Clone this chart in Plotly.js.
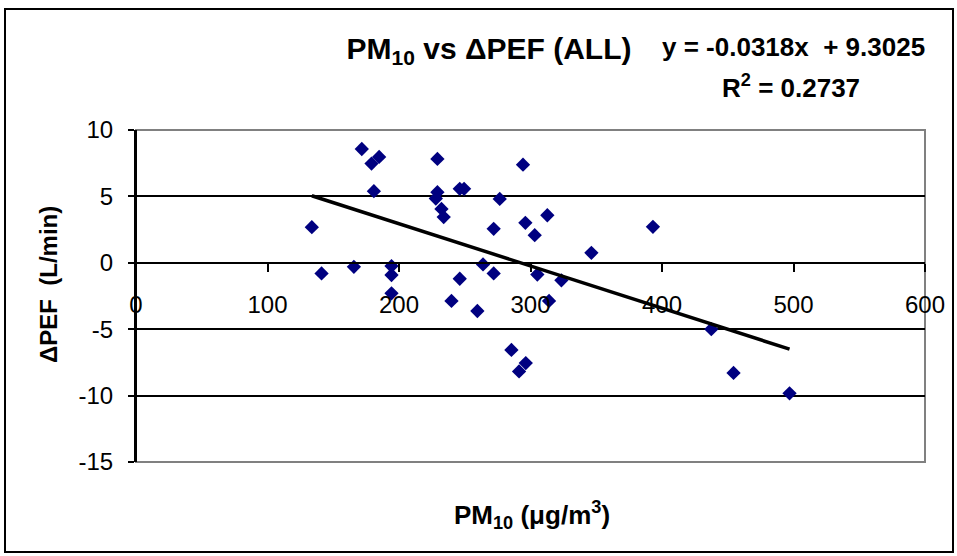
<!DOCTYPE html>
<html>
<head>
<meta charset="utf-8">
<script src="https://cdn.plot.ly/plotly-3.0.1.min.js"></script>
<style>
  html, body { margin: 0; padding: 0; background: #fff; }
  #wrap { position: relative; width: 957px; height: 556px; }
  #chart { width: 957px; height: 556px; }
  #frame { position: absolute; left: 4px; top: 8px; width: 946px; height: 541px;
           border: 2px solid #000; pointer-events: none; }
</style>
</head>
<body>
<div id="wrap">
  <div id="chart"></div>
  <div id="frame"></div>
</div>
<script>
// PM10 concentration (µg/m³) for each observation
const pm10 = [133.7, 141.1, 165.7, 171.7, 179.1, 184.9, 180.9, 194.3, 194.3, 194.3,
              229.2, 229.2, 228.0, 232.3, 234.0, 246.2, 249.5, 276.6, 272.0, 294.3,
              296.1, 303.2, 312.8, 346.3, 393.1, 305.2, 323.5, 263.9, 246.2, 272.0,
              239.9, 259.6, 314.1, 285.5, 291.3, 296.4, 437.5, 454.4, 497.0];

// Change in peak expiratory flow (L/min) for each observation
const dPEF = [2.68, -0.80, -0.30, 8.57, 7.47, 7.97, 5.39, -0.25, -0.92, -2.30,
              7.82, 5.32, 4.84, 4.06, 3.44, 5.57, 5.57, 4.81, 2.56, 7.39,
              3.01, 2.08, 3.58, 0.75, 2.71, -0.88, -1.32, -0.12, -1.20, -0.80,
              -2.87, -3.63, -2.87, -6.56, -8.18, -7.55, -5.00, -8.29, -9.83];

// Least-squares fit as reported
const slope = -0.0318;
const intercept = 9.3025;
const rSquared = 0.2737;

const xTicks = [0, 100, 200, 300, 400, 500, 600];
const yTicks = [-15, -10, -5, 0, 5, 10];

const xMin = Math.min(...pm10);
const xMax = Math.max(...pm10);
const fitX = [xMin, xMax];
const fitY = fitX.map(v => slope * v + intercept);

const FONT = 'Arial, "Liberation Sans", sans-serif';

// figure size and plot-area margins, used to place the free-standing labels
const W = 957, H = 556;
const M = { l: 136, r: 32, t: 130, b: 94 };
const px = v => (v - M.l) / (W - M.l - M.r);
const py = v => (H - M.b - v) / (H - M.t - M.b);

const traces = [
  {
    type: 'scatter', mode: 'markers',
    x: pm10, y: dPEF,
    marker: { symbol: 'diamond', size: 11, color: '#000080', line: { width: 0 } },
    hoverinfo: 'x+y', showlegend: false
  },
  {
    type: 'scatter', mode: 'lines',
    x: fitX, y: fitY,
    line: { color: '#000000', width: 3.5 },
    hoverinfo: 'skip', showlegend: false
  }
];

const layout = {
  width: W, height: H,
  paper_bgcolor: '#ffffff', plot_bgcolor: '#ffffff',
  margin: { l: M.l, r: M.r, t: M.t, b: M.b, autoexpand: false },
  font: { family: FONT, color: '#000', size: 24 },
  showlegend: false,
  title: {
    text: '<b>PM<sub>10</sub> vs ΔPEF (ALL)</b>',
    font: { family: FONT, size: 30, color: '#000' },
    x: 489 / W, xanchor: 'center', xref: 'container',
    y: 1 - 48 / H, yanchor: 'middle', yref: 'container'
  },
  xaxis: {
    range: [0, 600],
    tickvals: xTicks, ticktext: xTicks.map(String),
    anchor: 'free', position: 0.6,
    showline: true, linecolor: '#000', linewidth: 2,
    ticks: 'outside', ticklen: 8, tickwidth: 2, tickcolor: '#000',
    ticklabelstandoff: 12,
    showgrid: false, zeroline: false,
    tickfont: { family: FONT, size: 24, color: '#000' },
    fixedrange: true
  },
  yaxis: {
    range: [-15, 10],
    tickvals: yTicks, ticktext: yTicks.map(String),
    showline: true, linecolor: '#000', linewidth: 2,
    ticks: 'outside', ticklen: 6, tickwidth: 2, tickcolor: '#000',
    ticklabelstandoff: 10,
    showgrid: true, gridcolor: '#000', gridwidth: 2,
    zeroline: false,
    tickfont: { family: FONT, size: 24, color: '#000' },
    fixedrange: true
  },
  shapes: [
    {
      type: 'rect', xref: 'paper', yref: 'paper',
      x0: 0, x1: 1, y0: 0, y1: 1,
      line: { color: '#808080', width: 2 },
      fillcolor: 'rgba(0,0,0,0)', layer: 'between'
    },
    {
      type: 'line', xref: 'paper', yref: 'paper',
      x0: 0, x1: 0, y0: 0, y1: 1,
      line: { color: '#000', width: 2 }, layer: 'above'
    }
  ],
  annotations: [
    {
      text: '<b>y = ' + slope.toFixed(4) + 'x  + ' + intercept.toFixed(4) + '</b>',
      xref: 'paper', yref: 'paper',
      x: px(793), y: py(47),
      xanchor: 'center', yanchor: 'middle', showarrow: false,
      font: { family: FONT, size: 26, color: '#000' }
    },
    {
      text: '<b>R<sup>2</sup> = ' + rSquared.toFixed(4) + '</b>',
      xref: 'paper', yref: 'paper',
      x: px(791), y: py(87),
      xanchor: 'center', yanchor: 'middle', showarrow: false,
      font: { family: FONT, size: 26, color: '#000' }
    },
    {
      text: '<b>PM<sub>10</sub> (μg/m<sup>3</sup>)</b>',
      xref: 'paper', yref: 'paper',
      x: px(532), y: py(515),
      xanchor: 'center', yanchor: 'middle', showarrow: false,
      font: { family: FONT, size: 26, color: '#000' }
    },
    {
      text: '<b>ΔPEF  (L/min)</b>',
      xref: 'paper', yref: 'paper',
      x: px(48), y: py(285),
      xanchor: 'center', yanchor: 'middle', showarrow: false, textangle: -90,
      font: { family: FONT, size: 24, color: '#000' }
    }
  ]
};

Plotly.newPlot('chart', traces, layout, { displayModeBar: false, staticPlot: true });
</script>
</body>
</html>
